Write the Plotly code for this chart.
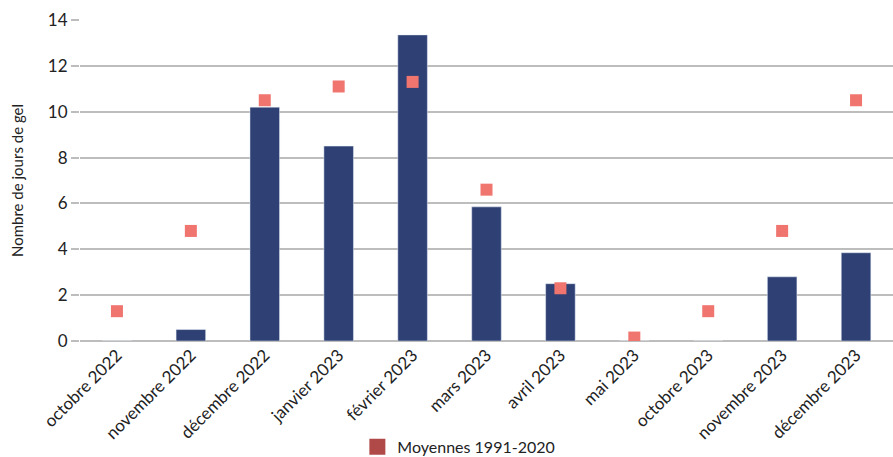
import plotly.graph_objects as go

categories = ["octobre 2022", "novembre 2022", "décembre 2022", "janvier 2023", "février 2023",
              "mars 2023", "avril 2023", "mai 2023", "octobre 2023", "novembre 2023", "décembre 2023"]
jours_gel = [0, 0.5, 10.2, 8.5, 13.35, 5.85, 2.5, 0, 0, 2.8, 3.85]
moyennes = [1.3, 4.8, 10.5, 11.1, 11.3, 6.6, 2.3, 0.15, 1.3, 4.8, 10.5]
y_ticks = [0, 2, 4, 6, 8, 10, 12, 14]

FONT = "Lato, 'Open Sans', sans-serif"

fig = go.Figure()
fig.add_trace(go.Bar(x=categories, y=jours_gel, marker_color="#2F4074", showlegend=False,
                     name="Nombre de jours de gel"))
fig.add_trace(go.Scatter(x=categories, y=moyennes, mode="markers", showlegend=False,
                         marker=dict(symbol="square", size=12, color="#F0756F"),
                         name="Moyennes 1991-2020"))
fig.add_trace(go.Scatter(x=[None], y=[None], mode="markers", name="Moyennes 1991-2020",
                         marker=dict(symbol="square", size=17, color="#B04A48")))

fig.update_layout(
    width=893, height=457,
    margin=dict(l=80, r=0, t=20, b=116, autoexpand=False),
    plot_bgcolor="white", paper_bgcolor="white",
    bargap=0.6,
    font=dict(family=FONT, size=16, color="#222222"),
    legend=dict(orientation="h", x=0.466, xanchor="center", yref="container", y=0.022,
                yanchor="middle", font=dict(size=16), itemsizing="trace"),
    xaxis=dict(tickangle=-45, showgrid=False, showline=False, ticks="", automargin=False,
               range=[-0.5, len(categories) - 0.5], tickfont=dict(size=17)),
    yaxis=dict(range=[0, 14], tickvals=y_ticks, showgrid=True, gridcolor="#BDBDBD", gridwidth=1.5,
               zeroline=True, zerolinecolor="#BDBDBD", zerolinewidth=2, automargin=False,
               ticks="outside", ticklen=8, tickcolor="#BDBDBD", tickwidth=1.5,
               title=dict(text="Nombre de jours de gel", font=dict(size=15), standoff=20),
               tickfont=dict(size=17)),
)

fig.write_html("out.html")
